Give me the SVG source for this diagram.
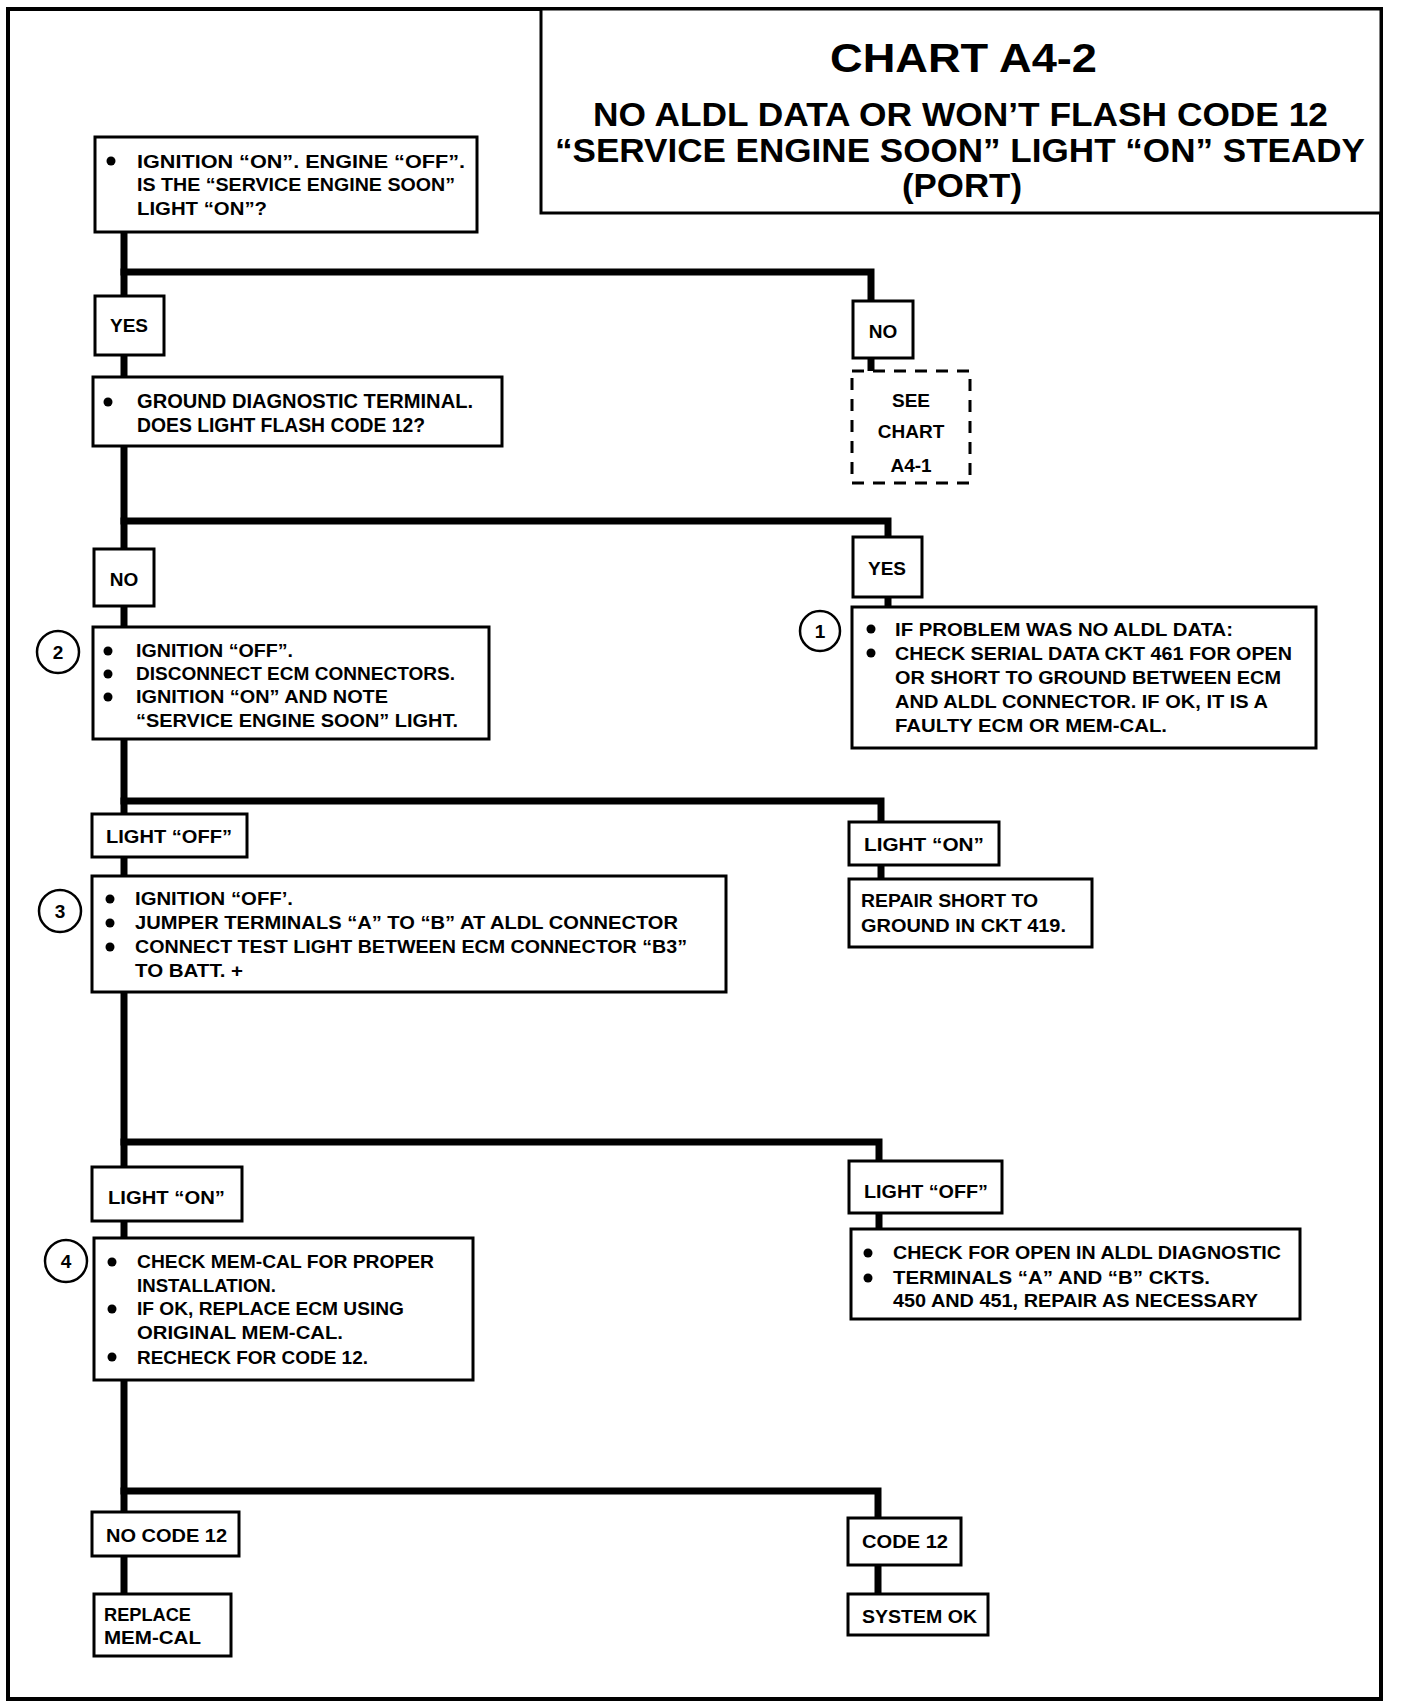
<svg xmlns="http://www.w3.org/2000/svg" width="1408" height="1708" viewBox="0 0 1408 1708">
<style>
.box{fill:#fff;stroke:#000;stroke-width:3}
.dash{fill:#fff;stroke:#000;stroke-width:3;stroke-dasharray:12 9}
.wire{fill:none;stroke:#000;stroke-width:7;stroke-linecap:square;stroke-linejoin:miter}
.num{fill:#fff;stroke:#000;stroke-width:2.5}
text{font-family:"Liberation Sans",Arial,sans-serif;font-weight:bold;fill:#000}
.t{font-size:19px}
.tl{font-size:20px}
.n{font-size:19px;text-anchor:middle}
.h1{font-size:41px}
.h2{font-size:34px}
</style>
<rect x="0" y="0" width="1408" height="1708" fill="#fff"/>
<rect x="8" y="9" width="1373" height="1690" fill="none" stroke="#000" stroke-width="4"/>

<g id="connectors">
<polyline class="wire" points="124,232 124,1594"/>
<polyline class="wire" points="124,272 871,272 871,301"/>
<line class="wire" x1="871" y1="358" x2="871" y2="371"/>
<polyline class="wire" points="124,521 888,521 888,537"/>
<line class="wire" x1="888" y1="597" x2="888" y2="607"/>
<polyline class="wire" points="124,801 881,801 881,822"/>
<line class="wire" x1="881" y1="865" x2="881" y2="879"/>
<polyline class="wire" points="124,1142 879,1142 879,1161"/>
<line class="wire" x1="879" y1="1213" x2="879" y2="1229"/>
<polyline class="wire" points="124,1491 878,1491 878,1594"/>
</g>

<g id="title">
<rect x="541" y="9" width="840" height="204" fill="#fff" stroke="#000" stroke-width="3"/>
<text class="h1" x="830" y="72" textLength="267" lengthAdjust="spacingAndGlyphs">CHART A4-2</text>
<text class="h2" x="593" y="126" textLength="735" lengthAdjust="spacingAndGlyphs">NO ALDL DATA OR WON’T FLASH CODE 12</text>
<text class="h2" x="555" y="162" textLength="810" lengthAdjust="spacingAndGlyphs">“SERVICE ENGINE SOON” LIGHT “ON” STEADY</text>
<text class="h2" x="902" y="197" textLength="120" lengthAdjust="spacingAndGlyphs">(PORT)</text>
</g>

<g id="n-start">
<rect class="box" x="95" y="137" width="382" height="95"/>
<circle cx="111" cy="161" r="4.5"/>
<text class="t" x="137" y="168" textLength="328" lengthAdjust="spacingAndGlyphs">IGNITION “ON”.  ENGINE “OFF”.</text>
<text class="t" x="137" y="191" textLength="318" lengthAdjust="spacingAndGlyphs">IS THE “SERVICE ENGINE SOON”</text>
<text class="t" x="137" y="215" textLength="130" lengthAdjust="spacingAndGlyphs">LIGHT “ON”?</text>
</g>

<g id="n-yes1">
<rect class="box" x="95" y="296" width="69" height="59"/>
<text class="n" x="129" y="332">YES</text>
</g>

<g id="n-no1">
<rect class="box" x="853" y="301" width="60" height="57"/>
<text class="n" x="883" y="338">NO</text>
</g>

<g id="n-see">
<rect class="dash" x="852" y="371" width="118" height="112"/>
<text class="n" x="911" y="407">SEE</text>
<text class="n" x="911" y="438">CHART</text>
<text class="n" x="911" y="472">A4-1</text>
</g>

<g id="n-ground">
<rect class="box" x="93" y="377" width="409" height="69"/>
<circle cx="108" cy="402" r="4.5"/>
<text class="tl" x="137" y="408" textLength="336" lengthAdjust="spacingAndGlyphs">GROUND DIAGNOSTIC TERMINAL.</text>
<text class="tl" x="137" y="432" textLength="288" lengthAdjust="spacingAndGlyphs">DOES LIGHT FLASH CODE 12?</text>
</g>

<g id="n-no2">
<rect class="box" x="94" y="549" width="60" height="57"/>
<text class="n" x="124" y="586">NO</text>
</g>

<g id="n-yes2">
<rect class="box" x="853" y="537" width="69" height="60"/>
<text class="n" x="887" y="575">YES</text>
</g>

<g id="n-step1">
<circle class="num" cx="820" cy="631" r="20"/>
<text class="n" x="820" y="638">1</text>
<rect class="box" x="852" y="607" width="464" height="141"/>
<circle cx="871" cy="629" r="4.5"/>
<circle cx="871" cy="653" r="4.5"/>
<text class="t" x="895" y="636" textLength="338" lengthAdjust="spacingAndGlyphs">IF PROBLEM WAS NO ALDL DATA:</text>
<text class="t" x="895" y="660" textLength="397" lengthAdjust="spacingAndGlyphs">CHECK SERIAL DATA CKT 461 FOR OPEN</text>
<text class="t" x="895" y="684" textLength="386" lengthAdjust="spacingAndGlyphs">OR SHORT TO GROUND BETWEEN ECM</text>
<text class="t" x="895" y="708" textLength="373" lengthAdjust="spacingAndGlyphs">AND ALDL CONNECTOR.  IF OK, IT IS A</text>
<text class="t" x="895" y="732" textLength="272" lengthAdjust="spacingAndGlyphs">FAULTY ECM OR MEM-CAL.</text>
</g>

<g id="n-step2">
<circle class="num" cx="58" cy="652" r="21"/>
<text class="n" x="58" y="659">2</text>
<rect class="box" x="93" y="627" width="396" height="112"/>
<circle cx="108" cy="651" r="4.5"/>
<circle cx="108" cy="674" r="4.5"/>
<circle cx="108" cy="697" r="4.5"/>
<text class="t" x="136" y="657" textLength="157" lengthAdjust="spacingAndGlyphs">IGNITION “OFF”.</text>
<text class="t" x="136" y="680" textLength="319" lengthAdjust="spacingAndGlyphs">DISCONNECT ECM CONNECTORS.</text>
<text class="t" x="136" y="703" textLength="252" lengthAdjust="spacingAndGlyphs">IGNITION “ON” AND NOTE</text>
<text class="t" x="136" y="727" textLength="322" lengthAdjust="spacingAndGlyphs">“SERVICE ENGINE SOON” LIGHT.</text>
</g>

<g id="n-off1">
<rect class="box" x="92" y="814" width="155" height="43"/>
<text class="t" x="106" y="843" textLength="126" lengthAdjust="spacingAndGlyphs">LIGHT “OFF”</text>
</g>

<g id="n-on1">
<rect class="box" x="849" y="822" width="150" height="43"/>
<text class="t" x="864" y="851" textLength="120" lengthAdjust="spacingAndGlyphs">LIGHT “ON”</text>
</g>

<g id="n-repair">
<rect class="box" x="849" y="879" width="243" height="68"/>
<text class="t" x="861" y="907" textLength="177" lengthAdjust="spacingAndGlyphs">REPAIR SHORT TO</text>
<text class="t" x="861" y="932" textLength="205" lengthAdjust="spacingAndGlyphs">GROUND IN CKT 419.</text>
</g>

<g id="n-step3">
<circle class="num" cx="60" cy="911" r="21"/>
<text class="n" x="60" y="918">3</text>
<rect class="box" x="92" y="876" width="634" height="116"/>
<circle cx="110" cy="899" r="4.5"/>
<circle cx="110" cy="923" r="4.5"/>
<circle cx="110" cy="947" r="4.5"/>
<text class="t" x="135" y="905" textLength="158" lengthAdjust="spacingAndGlyphs">IGNITION “OFF’.</text>
<text class="t" x="135" y="929" textLength="543" lengthAdjust="spacingAndGlyphs">JUMPER TERMINALS “A” TO “B” AT ALDL CONNECTOR</text>
<text class="t" x="135" y="953" textLength="552" lengthAdjust="spacingAndGlyphs">CONNECT TEST LIGHT BETWEEN ECM CONNECTOR “B3”</text>
<text class="t" x="135" y="977" textLength="108" lengthAdjust="spacingAndGlyphs">TO BATT. +</text>
</g>

<g id="n-on2">
<rect class="box" x="92" y="1167" width="150" height="54"/>
<text class="t" x="108" y="1204" textLength="117" lengthAdjust="spacingAndGlyphs">LIGHT “ON”</text>
</g>

<g id="n-off2">
<rect class="box" x="849" y="1161" width="153" height="52"/>
<text class="t" x="864" y="1198" textLength="124" lengthAdjust="spacingAndGlyphs">LIGHT “OFF”</text>
</g>

<g id="n-open">
<rect class="box" x="851" y="1229" width="449" height="90"/>
<circle cx="868" cy="1253" r="4.5"/>
<circle cx="868" cy="1278" r="4.5"/>
<text class="t" x="893" y="1259" textLength="388" lengthAdjust="spacingAndGlyphs">CHECK FOR OPEN IN ALDL DIAGNOSTIC</text>
<text class="t" x="893" y="1284" textLength="317" lengthAdjust="spacingAndGlyphs">TERMINALS  “A” AND “B” CKTS.</text>
<text class="t" x="893" y="1307" textLength="365" lengthAdjust="spacingAndGlyphs">450 AND 451, REPAIR AS NECESSARY</text>
</g>

<g id="n-step4">
<circle class="num" cx="66" cy="1261" r="21"/>
<text class="n" x="66" y="1268">4</text>
<rect class="box" x="94" y="1238" width="379" height="142"/>
<circle cx="112" cy="1262" r="4.5"/>
<circle cx="112" cy="1309" r="4.5"/>
<circle cx="112" cy="1357" r="4.5"/>
<text class="t" x="137" y="1268" textLength="297" lengthAdjust="spacingAndGlyphs">CHECK MEM-CAL FOR PROPER</text>
<text class="t" x="137" y="1292" textLength="139" lengthAdjust="spacingAndGlyphs">INSTALLATION.</text>
<text class="t" x="137" y="1315" textLength="267" lengthAdjust="spacingAndGlyphs">IF OK, REPLACE ECM USING</text>
<text class="t" x="137" y="1339" textLength="206" lengthAdjust="spacingAndGlyphs">ORIGINAL MEM-CAL.</text>
<text class="t" x="137" y="1364" textLength="231" lengthAdjust="spacingAndGlyphs">RECHECK FOR CODE 12.</text>
</g>

<g id="n-nocode">
<rect class="box" x="92" y="1512" width="147" height="44"/>
<text class="t" x="106" y="1542" textLength="121" lengthAdjust="spacingAndGlyphs">NO CODE 12</text>
</g>

<g id="n-code">
<rect class="box" x="848" y="1518" width="113" height="47"/>
<text class="t" x="862" y="1548" textLength="86" lengthAdjust="spacingAndGlyphs">CODE 12</text>
</g>

<g id="n-replace">
<rect class="box" x="94" y="1594" width="137" height="62"/>
<text class="t" x="104" y="1621" textLength="87" lengthAdjust="spacingAndGlyphs">REPLACE</text>
<text class="t" x="104" y="1644" textLength="97" lengthAdjust="spacingAndGlyphs">MEM-CAL</text>
</g>

<g id="n-ok">
<rect class="box" x="848" y="1594" width="140" height="41"/>
<text class="t" x="862" y="1623" textLength="115" lengthAdjust="spacingAndGlyphs">SYSTEM OK</text>
</g>
</svg>
